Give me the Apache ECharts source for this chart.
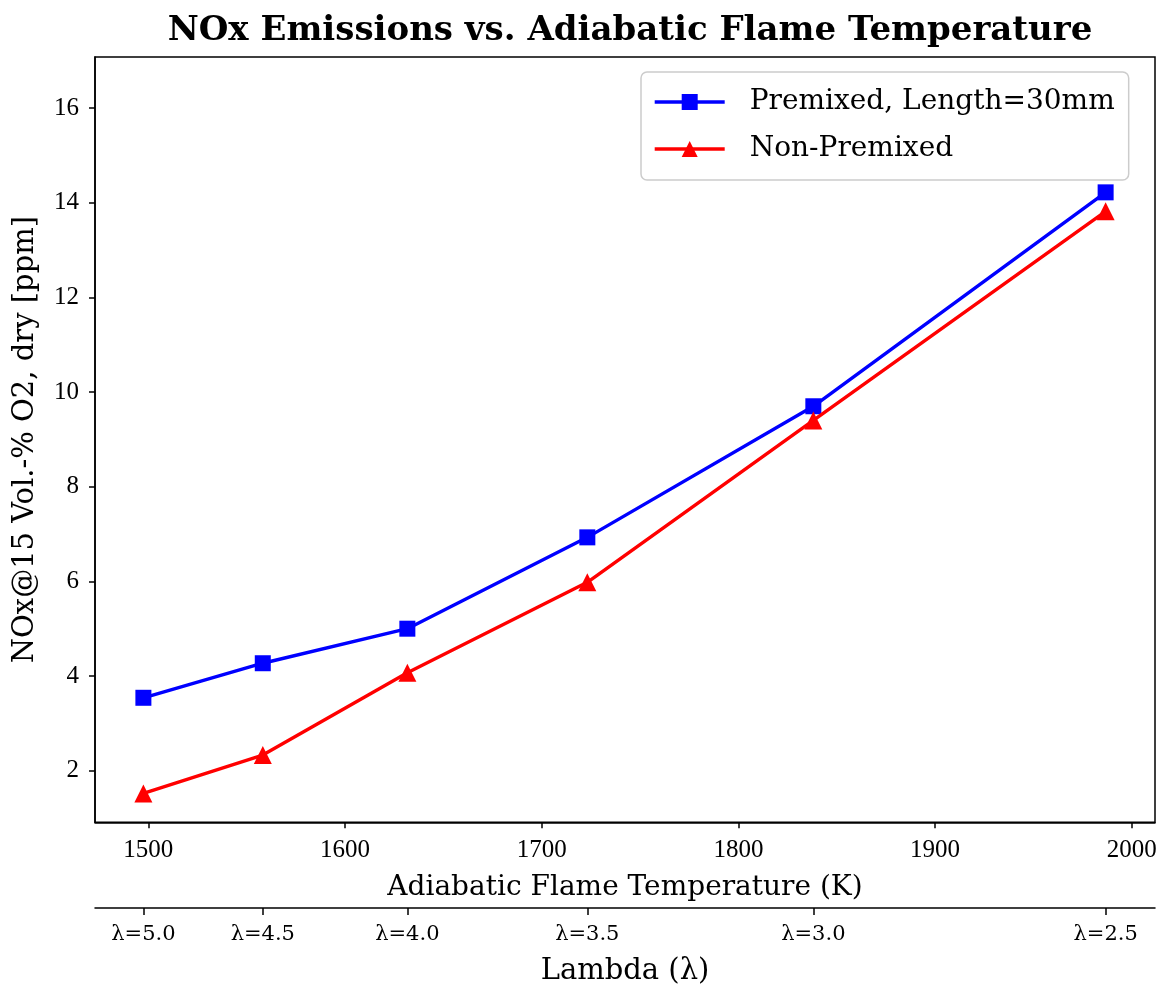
<!DOCTYPE html>
<html>
<head>
<meta charset="utf-8">
<title>NOx Emissions vs. Adiabatic Flame Temperature</title>
<script src="https://cdn.jsdelivr.net/npm/echarts@6/dist/echarts.min.js"></script>
<style>
  html, body { margin: 0; padding: 0; background: #fff; }
  #chart { width: 1161px; height: 988px; }
</style>
</head>
<body>
<div id="chart"></div>
<script>
// Adiabatic flame temperature (K) at each operating point
const temperatures = [1497.5, 1558.2, 1631.7, 1723.2, 1838.1, 1986.7];
// Air ratio lambda for each operating point
const lambdas = ['5.0', '4.5', '4.0', '3.5', '3.0', '2.5'];
// NOx @15 vol.-% O2, dry [ppm]
const premixed = [3.54, 4.27, 5.00, 6.93, 9.70, 14.22];
const nonPremixed = [1.52, 2.33, 4.07, 5.98, 9.40, 13.82];
// Tick labels
const tempTicks = [1500, 1600, 1700, 1800, 1900, 2000];
const noxTicks = [2, 4, 6, 8, 10, 12, 14, 16];

const serif = '"DejaVu Serif", "Liberation Serif", serif';
const tickFont = '"Liberation Serif", "DejaVu Serif", serif';
const xMin = 1472.9, xMax = 2011.8;
const plain = v => String(v);

const chart = echarts.init(document.getElementById('chart'), null, { renderer: 'canvas' });

chart.setOption({
  backgroundColor: '#ffffff',
  animation: false,
  textStyle: { fontFamily: serif, color: '#000' },
  title: {
    text: 'NOx Emissions vs. Adiabatic Flame Temperature',
    left: 625, top: 9, textAlign: 'center',
    textStyle: { fontFamily: serif, fontWeight: 'bold', fontSize: 34, color: '#000' }
  },
  legend: {
    orient: 'vertical',
    left: 641, top: 72,
    backgroundColor: '#fff',
    borderColor: '#cccccc', borderWidth: 1.5, borderRadius: 6,
    padding: [16, 14, 17, 12],
    itemWidth: 70, itemHeight: 20, itemGap: 19,
    lineStyle: { width: 3.4 },
    textStyle: { fontFamily: serif, fontSize: 28, color: '#000', padding: [0, 0, 0, 20] },
    data: ['Premixed, Length=30mm', 'Non-Premixed']
  },
  grid: [
    { left: 95, top: 57, width: 1060, height: 765.3, show: true, borderColor: '#000', borderWidth: 1.5, containLabel: false },
    { left: 95, top: 907, width: 1060, height: 1, show: false }
  ],
  xAxis: [
    {
      type: 'value', gridIndex: 0, min: xMin, max: xMax,
      name: 'Adiabatic Flame Temperature (K)', nameLocation: 'middle', nameGap: 51,
      nameTextStyle: { fontFamily: serif, fontSize: 28, color: '#000' },
      axisLine: { show: true, lineStyle: { color: '#000', width: 1.5 } },
      axisTick: { show: true, length: 6, lineStyle: { color: '#000', width: 1.5 }, customValues: tempTicks },
      axisLabel: { fontFamily: tickFont, fontSize: 25, color: '#000', margin: 16, customValues: tempTicks, formatter: plain },
      splitLine: { show: false }
    },
    {
      type: 'value', gridIndex: 1, min: xMin, max: xMax, position: 'bottom',
      name: 'Lambda (λ)', nameLocation: 'middle', nameGap: 49,
      nameTextStyle: { fontFamily: serif, fontSize: 29, color: '#000' },
      axisLine: { show: true, lineStyle: { color: '#000', width: 1.5 } },
      axisTick: { show: true, length: 7, lineStyle: { color: '#000', width: 1.5 }, customValues: temperatures },
      axisLabel: {
        fontFamily: serif, fontSize: 21, color: '#000', margin: 16,
        customValues: temperatures,
        formatter: function (v) {
          const i = temperatures.findIndex(t => Math.abs(t - v) < 1e-6);
          return i >= 0 ? 'λ=' + lambdas[i] : '';
        }
      },
      splitLine: { show: false }
    }
  ],
  yAxis: [
    {
      type: 'value', gridIndex: 0, min: 0.909, max: 17.08,
      name: 'NOx@15 Vol.-% O2, dry [ppm]', nameLocation: 'middle', nameGap: 55,
      nameTextStyle: { fontFamily: serif, fontSize: 29, color: '#000' },
      axisLine: { show: true, lineStyle: { color: '#000', width: 1.5 } },
      axisTick: { show: true, length: 6, lineStyle: { color: '#000', width: 1.5 }, customValues: noxTicks },
      axisLabel: { fontFamily: tickFont, fontSize: 25, color: '#000', margin: 16, customValues: noxTicks, formatter: plain },
      splitLine: { show: false }
    },
    {
      type: 'value', gridIndex: 1, show: false, min: 0, max: 1
    }
  ],
  series: [
    {
      name: 'Premixed, Length=30mm', type: 'line',
      xAxisIndex: 0, yAxisIndex: 0,
      data: temperatures.map((t, i) => [t, premixed[i]]),
      symbol: 'rect', symbolSize: 16,
      lineStyle: { color: '#0000ff', width: 3.4 },
      itemStyle: { color: '#0000ff' },
      z: 3
    },
    {
      name: 'Non-Premixed', type: 'line',
      xAxisIndex: 0, yAxisIndex: 0,
      data: temperatures.map((t, i) => [t, nonPremixed[i]]),
      symbol: 'triangle', symbolSize: 18,
      lineStyle: { color: '#ff0000', width: 3.4 },
      itemStyle: { color: '#ff0000' },
      z: 4
    }
  ]
});
</script>
</body>
</html>
